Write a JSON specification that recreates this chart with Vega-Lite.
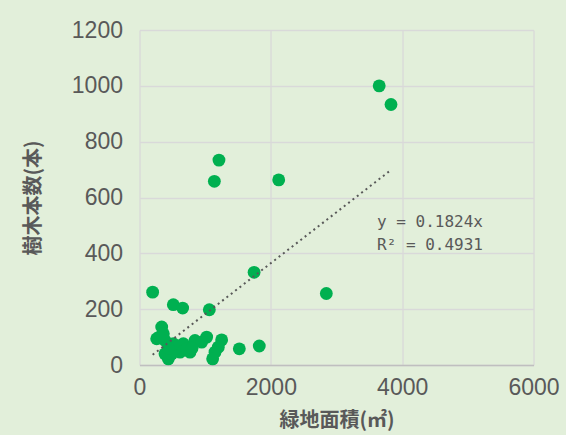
{
  "$schema": "https://vega.github.io/schema/vega-lite/v6.json",
  "width": 394,
  "height": 335,
  "autosize": {"type": "none"},
  "padding": {"left": 139.5, "top": 30, "right": 32.5, "bottom": 70},
  "background": "#e2efda",
  "config": {"view": {"stroke": null}, "font": "Liberation Sans"},
  "datasets": {
    "pts": [
      {"area": 3650, "trees": 1000}, {"area": 3830, "trees": 933}, {"area": 1210, "trees": 734},
      {"area": 1140, "trees": 658}, {"area": 2120, "trees": 663}, {"area": 1745, "trees": 332},
      {"area": 200, "trees": 261}, {"area": 2845, "trees": 256}, {"area": 515, "trees": 216},
      {"area": 657, "trees": 204}, {"area": 1063, "trees": 198}, {"area": 338, "trees": 136},
      {"area": 363, "trees": 112}, {"area": 262, "trees": 94}, {"area": 388, "trees": 88},
      {"area": 439, "trees": 22}, {"area": 388, "trees": 40}, {"area": 566, "trees": 64},
      {"area": 667, "trees": 76}, {"area": 769, "trees": 46}, {"area": 845, "trees": 88},
      {"area": 1023, "trees": 100}, {"area": 947, "trees": 82}, {"area": 1251, "trees": 90},
      {"area": 1200, "trees": 64}, {"area": 1150, "trees": 46}, {"area": 1114, "trees": 22},
      {"area": 1520, "trees": 58}, {"area": 1824, "trees": 68}, {"area": 617, "trees": 46},
      {"area": 490, "trees": 40}, {"area": 719, "trees": 58}, {"area": 515, "trees": 76},
      {"area": 300, "trees": 100}, {"area": 440, "trees": 60}, {"area": 800, "trees": 60}
    ],
    "trend": [{"area": 200, "trees": 36.5}, {"area": 3830, "trees": 698.6}],
    "eq": [
      {"area": 3617, "trees": 493, "label": "y = 0.1824x"},
      {"area": 3617, "trees": 411, "label": "R² = 0.4931"}
    ]
  },
  "layer": [
    {
      "data": {"name": "pts"},
      "mark": {"type": "circle", "size": 165, "color": "#00b050", "opacity": 1},
      "encoding": {
        "x": {
          "field": "area", "type": "quantitative",
          "scale": {"domain": [0, 6000], "nice": false},
          "axis": {
            "values": [0, 2000, 4000, 6000], "format": "d", "title": "緑地面積(㎡)",
            "grid": true, "gridColor": "#d9d9d9", "gridWidth": 1.3,
            "domainColor": "#bfbfbf", "domainWidth": 1.5, "ticks": false, "tickSize": 0,
            "labelFontSize": 23, "labelColor": "#595959", "labelPadding": 11,
            "labelFont": "Liberation Sans", "labelFlush": false,
            "titleFont": "Noto Sans CJK JP", "titleFontSize": 20, "titleFontWeight": "bold",
            "titleColor": "#595959", "titlePadding": 11
          }
        },
        "y": {
          "field": "trees", "type": "quantitative",
          "scale": {"domain": [0, 1200], "nice": false},
          "axis": {
            "values": [0, 200, 400, 600, 800, 1000, 1200], "format": "d", "title": "樹木本数(本)",
            "grid": true, "gridColor": "#d9d9d9", "gridWidth": 1.3,
            "domain": false, "ticks": false, "tickSize": 0,
            "labelFontSize": 23, "labelColor": "#595959", "labelPadding": 17,
            "labelFont": "Liberation Sans", "labelFlush": false,
            "titleFont": "Noto Sans CJK JP", "titleFontSize": 20, "titleFontWeight": "bold",
            "titleColor": "#595959", "titlePadding": 28
          }
        }
      }
    },
    {
      "data": {"name": "trend"},
      "mark": {"type": "line", "color": "#595959", "strokeWidth": 2, "strokeDash": [2, 3.5]},
      "encoding": {
        "x": {"field": "area", "type": "quantitative"},
        "y": {"field": "trees", "type": "quantitative"}
      }
    },
    {
      "data": {"name": "eq"},
      "mark": {"type": "text", "align": "left", "baseline": "alphabetic", "font": "DejaVu Sans Mono", "fontSize": 16, "color": "#595959"},
      "encoding": {
        "x": {"field": "area", "type": "quantitative"},
        "y": {"field": "trees", "type": "quantitative"},
        "text": {"field": "label"}
      }
    }
  ]
}
